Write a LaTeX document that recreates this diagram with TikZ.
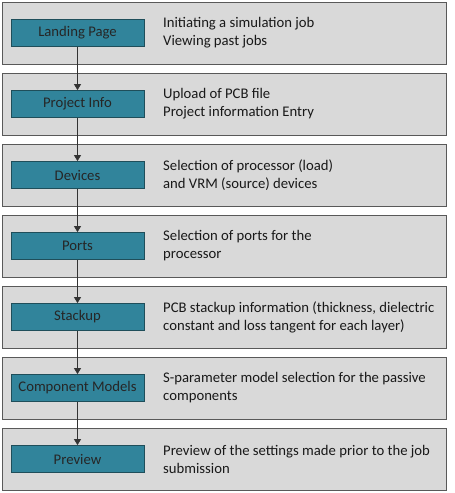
\documentclass[tikz,border=0pt]{standalone}
\usepackage{fontspec}
\setmainfont{Carlito}
\usepackage{xcolor}
\usetikzlibrary{arrows.meta}

\definecolor{panelgray}{HTML}{D9D9D9}
\definecolor{paneledge}{HTML}{595959}
\definecolor{stepteal}{HTML}{31849B}
\definecolor{stepedge}{HTML}{1F4E5A}

\begin{document}
\begin{tikzpicture}[x=1pt,y=-1pt,
  panel/.style={draw=paneledge,fill=panelgray,line width=0.9pt},
  stepbox/.style={draw=stepedge,fill=stepteal,line width=0.8pt,minimum width=133pt,minimum height=27pt,inner sep=0pt,font=\fontsize{14.7}{17}\selectfont,text=black!85},
  note/.style={anchor=west,align=left,inner sep=0pt,font=\fontsize{14.7}{18}\selectfont,text=black!90},
  flow/.style={-{Triangle[length=6pt,width=7pt]},draw=black!80,line width=0.8pt}]
\useasboundingbox (0,0) rectangle (455,493);
% one panel per step
\foreach \i/\name/\lab/\txt in {
  0/landing/Landing Page/{Initiating a simulation job\\Viewing past jobs},
  1/info/Project Info/{Upload of PCB file\\Project information Entry},
  2/devices/Devices/{Selection of processor (load)\\and VRM (source) devices},
  3/ports/Ports/{Selection of ports for the\\processor},
  4/stackup/Stackup/{PCB stackup information (thickness, dielectric\\constant and loss tangent for each layer)},
  5/models/Component Models/{S-parameter model selection for the passive\\components},
  6/preview/Preview/{Preview of the settings made prior to the job\\submission}} {
  \draw[panel] (2,2+71*\i) rectangle (446,64+71*\i);
  \node[stepbox] (\name) at (77.5,33+71*\i) {\lab};
  \node[note] (\name-txt) at (163,33+71*\i) {\txt};
}
% flow between steps
\draw[flow] (landing) -- (info);
\draw[flow] (info) -- (devices);
\draw[flow] (devices) -- (ports);
\draw[flow] (ports) -- (stackup);
\draw[flow] (stackup) -- (models);
\draw[flow] (models) -- (preview);
\end{tikzpicture}
\end{document}
